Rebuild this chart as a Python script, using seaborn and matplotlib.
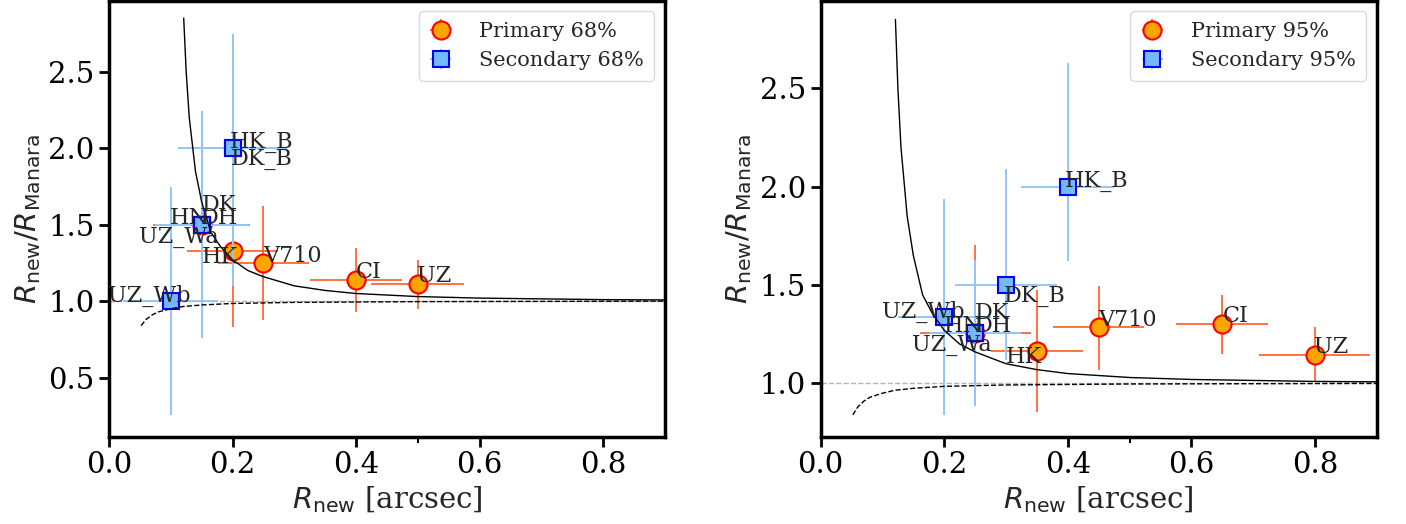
import numpy as np
import matplotlib
matplotlib.use("Agg")
import matplotlib.pyplot as plt
import seaborn as sns

# ---- data ----
# shared model curves
curve_x = [0.121, 0.125, 0.13, 0.14, 0.15, 0.165, 0.18, 0.2, 0.225, 0.25,
           0.3, 0.35, 0.4, 0.5, 0.6, 0.7, 0.8, 0.9]
curve_y = [2.85, 2.50, 2.20, 1.85, 1.65, 1.45, 1.36, 1.27, 1.20, 1.16,
           1.10, 1.07, 1.05, 1.03, 1.02, 1.015, 1.01, 1.008]
dash_x = [0.052, 0.06, 0.07, 0.08, 0.09, 0.1, 0.12, 0.15, 0.2, 0.3, 0.5, 0.9]
dash_y = [0.84, 0.88, 0.91, 0.93, 0.94, 0.95, 0.965, 0.975, 0.985, 0.992, 0.997, 1.0]

# 68% panel
prim68_names = ["HK", "V710", "CI", "UZ", "DK"]
prim68_x = [0.2, 0.25, 0.4, 0.5, 0.15]
prim68_y = [1.33, 1.25, 1.14, 1.11, 1.5]
prim68_xerr = [0.073, 0.074, 0.074, 0.075, 0.078]
prim68_yerr_lo = [0.5, 0.37, 0.21, 0.16, 0.74]
prim68_yerr_hi = [0.5, 0.37, 0.21, 0.16, 0.74]

sec68_names = ["HK_B", "DK_B", "HN", "DH", "UZ_Wa", "UZ_Wb"]
sec68_x = [0.2, 0.2, 0.15, 0.15, 0.15, 0.1]
sec68_y = [2.0, 2.0, 1.5, 1.5, 1.5, 1.0]
sec68_xerr = [0.089, 0.085, 0.076, 0.076, 0.076, 0.077]
sec68_yerr_lo = [0.9, 0.6, 0.74, 0.74, 0.74, 0.745]
sec68_yerr_hi = [0.745, 0.5, 0.74, 0.74, 0.74, 0.745]

# 95% panel
prim95_names = ["HK", "V710", "CI", "UZ", "DK"]
prim95_x = [0.35, 0.45, 0.65, 0.8, 0.25]
prim95_y = [1.165, 1.285, 1.30, 1.145, 1.255]
prim95_xerr = [0.074, 0.074, 0.074, 0.09, 0.09]
prim95_yerr_lo = [0.31, 0.215, 0.15, 0.14, 0.37]
prim95_yerr_hi = [0.31, 0.21, 0.15, 0.14, 0.45]

sec95_names = ["HK_B", "DK_B", "HN", "DH", "UZ_Wa", "UZ_Wb"]
sec95_x = [0.4, 0.3, 0.25, 0.25, 0.25, 0.2]
sec95_y = [2.0, 1.5, 1.255, 1.255, 1.255, 1.337]
sec95_xerr = [0.075, 0.083, 0.075, 0.075, 0.075, 0.075]
sec95_yerr_lo = [0.38, 0.38, 0.37, 0.37, 0.37, 0.5]
sec95_yerr_hi = [0.63, 0.59, 0.37, 0.37, 0.37, 0.6]

# label offsets in pixels (text centre relative to the point)
label_offsets = {
    "HK_B": (29, 6), "DK_B": (29, -11), "DK": (17, 20), "HN": (-12, 7),
    "DH": (18, 7), "UZ_Wa": (-23, -12), "UZ_Wb": (-21, 5), "HK": (-13, -6),
    "V710": (29, 7), "CI": (13, 8), "UZ": (16, 8),
}

sns.set_theme(style="ticks")
plt.rcParams["font.family"] = ["DejaVu Serif"]
plt.rcParams["mathtext.fontset"] = "dejavusans"
plt.rcParams["axes.edgecolor"] = "black"
plt.rcParams["xtick.color"] = "black"
plt.rcParams["ytick.color"] = "black"

fig = plt.figure(figsize=(14.06, 5.24), dpi=100)
ax1 = fig.add_axes([0.0775, 0.1666, 0.3954, 0.8315])
ax2 = fig.add_axes([0.5837, 0.1666, 0.3954, 0.8315])

ORANGE_ERR = (1.0, 0.27, 0.0, 0.75)
BLUE_ERR = "#93c6f8"


def panel(ax, pn, px, py, pxe, pylo, pyhi, sn, sx, sy, sxe, sylo, syhi, tag, ylim, yticks):
    ax.axhline(1.0, color="#b5b5b5", ls="--", lw=1, zorder=1)
    ax.errorbar(px, py, xerr=pxe, yerr=[pylo, pyhi], fmt="o", ms=13,
                mfc="orange", mec="red", mew=1.5, ecolor=ORANGE_ERR,
                elinewidth=1.4, zorder=2, label=f"Primary {tag}")
    ax.errorbar(sx, sy, xerr=sxe, yerr=[sylo, syhi], fmt="s", ms=12,
                mfc="#74b9ff", mec="blue", mew=1.5, ecolor=BLUE_ERR,
                elinewidth=1.4, zorder=3, label=f"Secondary {tag}")
    sns.lineplot(x=curve_x, y=curve_y, ax=ax, color="black", lw=1,
                 sort=False, estimator=None, zorder=4)
    sns.lineplot(x=dash_x, y=dash_y, ax=ax, color="black", lw=1, ls="--",
                 sort=False, estimator=None, zorder=4)
    for names, xs, ys in ((pn, px, py), (sn, sx, sy)):
        for n, x, y in zip(names, xs, ys):
            dx, dy = label_offsets[n]
            ax.annotate(n, (x, y), xytext=(dx, dy), textcoords="offset pixels",
                        ha="center", va="center", fontsize=16, zorder=5)
    ax.set_xlim(0, 0.9)
    ax.set_ylim(*ylim)
    ax.set_xticks([0.0, 0.2, 0.4, 0.6, 0.8])
    ax.set_xticks([0.5], minor=True)
    ax.set_yticks(yticks)
    ax.tick_params(which="major", length=7, width=2, labelsize=21)
    ax.tick_params(which="minor", length=4, width=1.5)
    for s in ax.spines.values():
        s.set_linewidth(2.5)
    ax.set_xlabel(r"$R_{\rm new}$ [arcsec]", fontsize=21)
    ax.set_ylabel(r"$R_{\rm new}/R_{\rm Manara}$", fontsize=21)
    leg = ax.legend(loc="upper right", fontsize=15, handlelength=1.1,
                    handletextpad=1.3, frameon=True, borderpad=0.5)
    leg.get_frame().set_edgecolor("#d0d0d0")


panel(ax1, prim68_names, prim68_x, prim68_y, prim68_xerr, prim68_yerr_lo, prim68_yerr_hi,
      sec68_names, sec68_x, sec68_y, sec68_xerr, sec68_yerr_lo, sec68_yerr_hi,
      "68%", (0.114, 2.962), [0.5, 1.0, 1.5, 2.0, 2.5])
panel(ax2, prim95_names, prim95_x, prim95_y, prim95_xerr, prim95_yerr_lo, prim95_yerr_hi,
      sec95_names, sec95_x, sec95_y, sec95_xerr, sec95_yerr_lo, sec95_yerr_hi,
      "95%", (0.729, 2.944), [1.0, 1.5, 2.0, 2.5])

fig.savefig("out.png", dpi=100)
